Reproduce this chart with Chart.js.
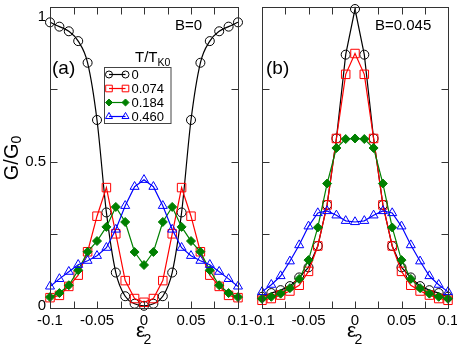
<!DOCTYPE html>
<html><head><meta charset="utf-8">
<script src="https://cdn.jsdelivr.net/npm/chart.js@4"></script>
<style>
html,body{margin:0;padding:0;background:#fff;overflow:hidden;width:457px;height:346px}
#wrap{position:relative;width:457px;height:346px;overflow:hidden}
canvas{position:absolute;left:0;top:0}
</style></head><body>
<div id="wrap"><canvas id="ca" width="480" height="346" style="width:480px;height:346px"></canvas><canvas id="cb" width="480" height="346" style="width:480px;height:346px"></canvas></div>
<script>
// ---- data ----
const eps = [-0.1,-0.09,-0.08,-0.07,-0.06,-0.05,-0.04,-0.03,-0.02,-0.01,0,0.01,0.02,0.03,0.04,0.05,0.06,0.07,0.08,0.09,0.1];
const seriesLabels = ['0','0.074','0.184','0.460'];
// panel (a), B=0
const a0   = [0.982,0.967,0.951,0.917,0.842,0.644,0.324,0.116,0.034,0.008,0.001,0.008,0.034,0.116,0.324,0.644,0.842,0.917,0.951,0.967,0.982];
const a074 = [0.029,0.037,0.068,0.107,0.188,0.311,0.410,0.250,0.088,0.026,0.013,0.026,0.088,0.250,0.410,0.311,0.188,0.107,0.068,0.037,0.029];
const a184 = [0.031,0.045,0.072,0.124,0.188,0.225,0.274,0.343,0.291,0.187,0.142,0.187,0.291,0.343,0.274,0.225,0.188,0.124,0.072,0.045,0.031];
const a460 = [0.068,0.094,0.119,0.143,0.157,0.174,0.202,0.265,0.347,0.413,0.437,0.413,0.347,0.265,0.202,0.174,0.157,0.143,0.119,0.094,0.068];
// panel (b), B=0.045
const b0   = [0.032,0.045,0.055,0.069,0.099,0.134,0.208,0.350,0.580,0.870,1.028,0.870,0.580,0.350,0.208,0.134,0.099,0.069,0.055,0.045,0.032];
const b074 = [0.020,0.026,0.038,0.052,0.072,0.120,0.208,0.350,0.580,0.802,0.874,0.802,0.580,0.350,0.208,0.120,0.072,0.052,0.038,0.026,0.020];
const b184 = [0.025,0.032,0.043,0.062,0.094,0.159,0.272,0.424,0.547,0.578,0.580,0.578,0.547,0.424,0.272,0.159,0.094,0.062,0.043,0.032,0.025];
const b460 = [0.049,0.074,0.104,0.155,0.211,0.276,0.322,0.329,0.314,0.295,0.291,0.295,0.314,0.329,0.322,0.276,0.211,0.155,0.104,0.074,0.049];
const xTickValues = [-0.1,-0.05,0,0.05,0.1];
const xTickLabels = ['-0.1','-0.05','0','0.05','0.1'];
const yTickValues = [0,0.5,1];
const yTickLabels = ['0','0.5','1'];
const xMinorTicks = [-0.075,-0.05,-0.025,0,0.025,0.05,0.075];
const yMinorTicks = [0.25,0.5,0.75];

const FONT = '"Liberation Sans", Arial, Helvetica, sans-serif';
const styles = [
  {color:'#000000', pointStyle:'circle',   r:4.5, fill:false, order:4},
  {color:'#ff0000', pointStyle:'rect',     r:6,   fill:false, order:3},
  {color:'#008000', pointStyle:'rectRot',  r:4.5, fill:true,  order:2},
  {color:'#0000ff', pointStyle:'triangle', r:5.2, fill:false, order:1}
];

function mkDatasets(arrs, smoothBlack){
  return arrs.map((vals,i)=>{
    const s = styles[i];
    return {
      label: seriesLabels[i],
      data: eps.map((e,k)=>({x:e, y:vals[k]})),
      borderColor: s.color, borderWidth: 1.2,
      pointStyle: s.pointStyle, pointRadius: s.r,
      pointBorderColor: s.color, pointBorderWidth: 1,
      pointBackgroundColor: s.fill ? s.color : 'rgba(0,0,0,0)',
      backgroundColor: s.fill ? s.color : 'rgba(0,0,0,0)',
      fill: false, clip: false, order: s.order,
      tension: 0,
      cubicInterpolationMode: (i===0 && smoothBlack) ? 'monotone' : 'default'
    };
  });
}

const framePlugin = {
  id: 'frame',
  afterDraw(chart, args, o){
    const {ctx, chartArea: ca} = chart;
    const x = chart.scales.x, y = chart.scales.y;
    ctx.save();
    ctx.strokeStyle = '#333'; ctx.lineWidth = 1;
    const L = Math.round(ca.left)+0.5, R = Math.round(ca.right)+0.5, T = Math.round(ca.top)+0.5, B = Math.round(ca.bottom)+0.5;
    ctx.strokeRect(L, T, R-L, B-T);
    ctx.beginPath();
    xMinorTicks.forEach(v=>{ const px = Math.round(x.getPixelForValue(v))+0.5;
      ctx.moveTo(px,B); ctx.lineTo(px,B-7); ctx.moveTo(px,T); ctx.lineTo(px,T+7); });
    yMinorTicks.forEach(v=>{ const py = Math.round(y.getPixelForValue(v))+0.5;
      ctx.moveTo(L,py); ctx.lineTo(L+7,py); ctx.moveTo(R,py); ctx.lineTo(R-7,py); });
    ctx.stroke();
    ctx.fillStyle = '#000';
    ctx.textBaseline = 'alphabetic'; ctx.textAlign = 'left';
    ctx.font = '19px ' + FONT;
    ctx.fillText(o.panel, o.panelX, 74);
    ctx.font = '15px ' + FONT;
    ctx.fillText(o.field, o.fieldX, 29.5);
    const cx = x.getPixelForValue(0);
    ctx.font = '21px ' + FONT;
    ctx.fillText('\u03b5', cx-8, 336.5);
    ctx.font = '14px ' + FONT;
    ctx.fillText('2', cx-0.5, 344);
    if (o.ylabel){
      ctx.save();
      ctx.translate(18, 158);
      ctx.rotate(-Math.PI/2);
      ctx.font = '20px ' + FONT;
      const w1 = ctx.measureText('G/G').width;
      ctx.font = '14px ' + FONT;
      const w2 = ctx.measureText('0').width;
      const start = -(w1+w2)/2;
      ctx.font = '20px ' + FONT;
      ctx.fillText('G/G', start, 0);
      ctx.font = '14px ' + FONT;
      ctx.fillText('0', start+w1, 3);
      ctx.restore();
    }
    if (o.legend){
      ctx.font = '15px ' + FONT;
      ctx.fillText('T/T', 135, 61.5);
      const tw = ctx.measureText('T/T').width;
      ctx.font = '10.5px ' + FONT;
      ctx.fillText('K0', 135+tw, 66);
      ctx.strokeStyle = '#444'; ctx.lineWidth = 1;
      ctx.strokeRect(104.5, 67.5, 66.5, 56);
      const metas = chart.data.datasets;
      metas.forEach((ds,i)=>{
        const yy = 74.5 + i*14;
        ctx.strokeStyle = ds.borderColor; ctx.lineWidth = 1.2;
        ctx.beginPath(); ctx.moveTo(109, yy); ctx.lineTo(125.5, yy); ctx.stroke();
        ctx.lineWidth = 1;
        ctx.fillStyle = ds.pointBackgroundColor;
        [109,125.5].forEach(px=>{
          Chart.helpers.drawPoint(ctx, {pointStyle: ds.pointStyle, radius: ds.pointRadius*0.78, borderWidth:1, rotation:0}, px, yy);
        });
        ctx.fillStyle = '#000';
        ctx.font = '13px ' + FONT;
        ctx.textBaseline = 'middle';
        ctx.fillText(ds.label, 131.5, yy+0.5);
        ctx.textBaseline = 'alphabetic';
      });
    }
    ctx.restore();
  }
};

function makeChart(id, arrs, opt){
  return new Chart(document.getElementById(id), {
    type: 'line',
    data: { datasets: mkDatasets(arrs, opt.smooth) },
    options: {
      responsive: false, animation: false, devicePixelRatio: 1,
      layout: { padding: { left: opt.padL, right: opt.padR, top: 3, bottom: 0 } },
      plugins: { legend: {display:false}, tooltip: {enabled:false}, title:{display:false},
        frame: opt.frame },
      scales: {
        x: { type:'linear', min:-0.1, max:0.1,
          grid:{display:false, drawTicks:false}, border:{display:false},
          afterBuildTicks: s => { s.ticks = xTickValues.map(v=>({value:v})); },
          afterFit: s => { s.height = 38.5; s.paddingLeft = 0; s.paddingRight = 0; },
          ticks: { autoSkip:false, maxRotation:0, padding:4, color:'#000',
            font:{family:FONT, size:15},
            callback: (v,i) => xTickLabels[i] } },
        y: { type:'linear', min:-0.005, max:1.035, display: opt.showY,
          grid:{display:false, drawTicks:false}, border:{display:false},
          afterBuildTicks: s => { s.ticks = yTickValues.map(v=>({value:v})); },
          afterFit: s => { s.width = opt.showY ? 50 : 0; s.paddingTop = 0; s.paddingBottom = 0; },
          ticks: { padding:4, color:'#000', font:{family:FONT, size:15},
            callback: (v,i) => yTickLabels[i] } }
      }
    },
    plugins: [framePlugin]
  });
}

makeChart('ca', [a0,a074,a184,a460], {padL:0, padR:480-238, showY:true, smooth:true,
  frame:{panel:'(a)', panelX:52, field:'B=0', fieldX:175, ylabel:true, legend:true}});
makeChart('cb', [b0,b074,b184,b460], {padL:262, padR:480-448, showY:false, smooth:false,
  frame:{panel:'(b)', panelX:266, field:'B=0.045', fieldX:375, ylabel:false, legend:false}});
</script>
</body></html>
